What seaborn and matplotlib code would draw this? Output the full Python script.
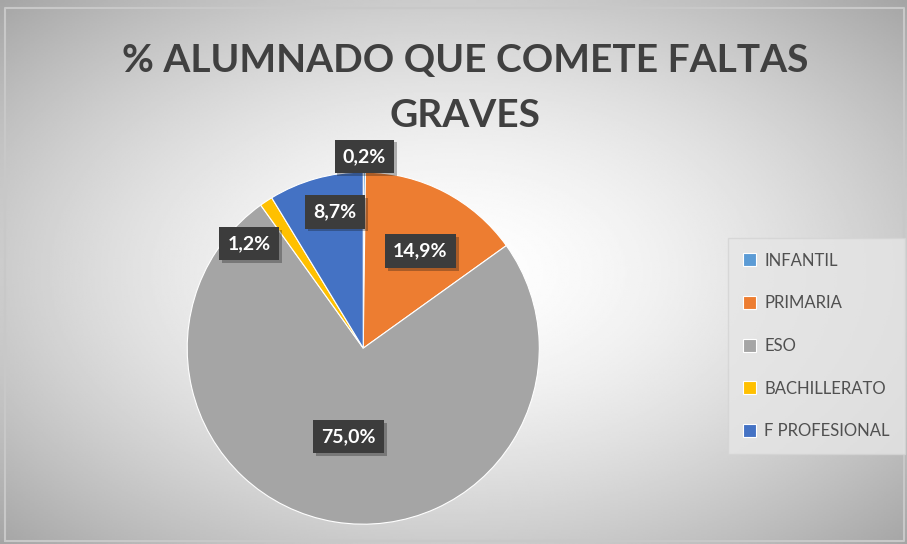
import matplotlib.pyplot as plt
import matplotlib.patheffects as pe
import numpy as np
import seaborn as sns

sns.set_style("white")
plt.rcParams['font.family'] = ['Lato', 'DejaVu Sans']

# --- DATA ---
categories = ["INFANTIL", "PRIMARIA", "ESO", "BACHILLERATO", "F PROFESIONAL"]
values = [0.2, 14.9, 75.0, 1.2, 8.7]
labels = ["0,2%", "14,9%", "75,0%", "1,2%", "8,7%"]
colors = ["#5B9BD5", "#ED7D31", "#A5A5A5", "#FFC000", "#4472C4"]
title = "% ALUMNADO QUE COMETE FALTAS\nGRAVES"

fig = plt.figure(figsize=(9.07, 5.44), dpi=100)

# radial gradient background
bg = fig.add_axes([0, 0, 1, 1], zorder=-10)
yy, xx = np.mgrid[-1:1:300j, -1:1:500j]
rr = np.sqrt((xx * 0.95) ** 2 + (yy * 0.95) ** 2)
bg.imshow(1 - 0.22 * np.clip(rr, 0, 1.4) ** 1.6, cmap="gray", vmin=0, vmax=1,
          aspect="auto", extent=[0, 1, 0, 1])
bg.plot([0.005, 0.997, 0.997, 0.005, 0.005], [0.006, 0.006, 0.985, 0.985, 0.006],
        color="#c8c8c8", lw=1.5)
bg.set_xlim(0, 1); bg.set_ylim(0, 1)
bg.axis("off")

fig.text(0.513, 0.838, title, ha="center", va="center", fontsize=28,
         fontweight="bold", color="#404040", linespacing=1.7)

ax = fig.add_axes([0.187, 0.004, 0.427, 0.712])
ax.set_facecolor("none")
wedges, _ = ax.pie(values, colors=colors, startangle=90, counterclock=False,
                   radius=1.0, wedgeprops=dict(linewidth=0.8, edgecolor="white"))
ax.set_aspect("equal")
ax.set_xlim(-1.1, 1.1); ax.set_ylim(-1.1, 1.1)

# label placement (radius factor, angle offset in degrees) per wedge
placement = [(1.09, 0), (0.64, -3), (0.51, 0), (0.88, 14), (0.79, -4)]
for w, lab, (r, dt) in zip(wedges, labels, placement):
    ang = np.deg2rad((w.theta1 + w.theta2) / 2 + dt)
    x, y = r * np.cos(ang), r * np.sin(ang)
    t = ax.text(x, y, lab, ha="center", va="center", fontsize=14,
                fontweight="bold", color="white",
                bbox=dict(boxstyle="square,pad=0.42", facecolor="#3c3c3c",
                          edgecolor="none"), zorder=5)
    t.get_bbox_patch().set_path_effects(
        [pe.SimplePatchShadow(offset=(2, -2), alpha=0.3), pe.Normal()])

leg = fig.legend(wedges, categories, loc="center left",
                 bbox_to_anchor=(0.793, 0.364), frameon=True, fontsize=12,
                 handlelength=0.8, handleheight=0.8, labelspacing=1.6,
                 borderpad=0.9, handletextpad=0.5, fancybox=False)
leg.get_frame().set_facecolor("#e6e6e6")
leg.get_frame().set_edgecolor("#d4d4d4")
for t in leg.get_texts():
    t.set_color("#505050")

fig.savefig("out.png", dpi=100)
